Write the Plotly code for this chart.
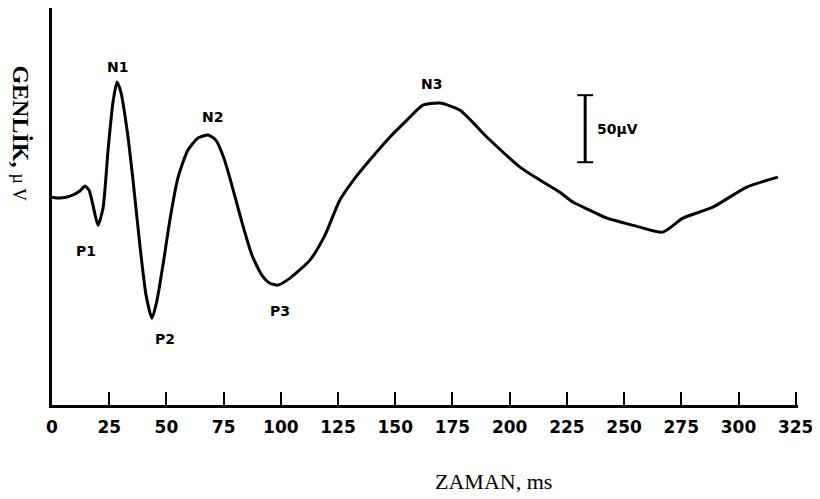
import plotly.graph_objects as go

# Waveform (time in ms, amplitude in µV, upward = displayed positive)
time_ms = [0, 3.5, 7.9, 12.2, 14.4, 16.2, 17.9, 20.1, 22.3, 24.5, 26.6, 28.4, 30.1, 32.8,
           35.4, 38.4, 41.1, 43.7, 45.9, 48.5, 51.5, 55.0, 59.4, 63.8, 68.2, 71.6, 75.1,
           78.6, 83.0, 87.4, 91.7, 95.2, 98.7, 104.0, 112.7, 119.3, 125.8, 132.4, 138.9,
           147.7, 155.1, 162.1, 169.5, 178.2, 190.0, 204.5, 213.2, 221.9, 227.6, 235.0,
           242.5, 250.3, 256.9, 266.9, 275.7, 288.8, 303.6, 317.2]
amp_uv = [0, -0.7, 0.7, 4.5, 8.2, 5.2, -6.0, -20.9, -8.2, 35.1, 70.1, 85.8, 78.3, 50.0,
          12.7, -35.8, -73.1, -90.3, -76.8, -50.7, -17.2, 14.2, 35.1, 44.0, 46.3, 42.5, 29.1,
          9.0, -18.7, -43.3, -58.2, -64.2, -65.6, -60.4, -47.0, -28.3, -2.2, 14.2, 27.6,
          44.8, 57.4, 68.6, 70.1, 64.9, 44.8, 22.4, 12.7, 3.7, -3.7, -9.7,
          -15.7, -19.4, -22.4, -26.1, -15.7, -7.5, 7.5, 14.9]

# Component labels and the sample index of their peak/trough
comp_labels = ["P1", "N1", "P2", "N2", "P3", "N3"]
comp_index = [7, 11, 17, 24, 32, 42]
comp_shift = [(-12, -26), (1, 15), (13, -21), (4, 18), (2, -26), (-8, 19)]

x_ticks = [0, 25, 50, 75, 100, 125, 150, 175, 200, 225, 250, 275, 300, 325]
scale_bar_uv = 50
scale_bar_x = 233
scale_bar_base = 26

fig = go.Figure()
fig.add_trace(go.Scatter(x=time_ms, y=amp_uv, mode="lines",
                         line=dict(color="black", width=3, shape="spline", smoothing=0.6),
                         hoverinfo="skip", showlegend=False))

for lab, idx, (dx, dy) in zip(comp_labels, comp_index, comp_shift):
    fig.add_annotation(x=time_ms[idx], y=amp_uv[idx], text=f"<b>{lab}</b>", showarrow=False,
                       xshift=dx, yshift=dy,
                       font=dict(family="DejaVu Sans", size=14, color="black"))

# scale bar
sb_top = scale_bar_base + scale_bar_uv
fig.add_shape(type="line", x0=scale_bar_x, x1=scale_bar_x, y0=scale_bar_base, y1=sb_top,
              line=dict(color="black", width=3))
for yy in (scale_bar_base, sb_top):
    fig.add_shape(type="line", x0=scale_bar_x - 3.5, x1=scale_bar_x + 3.5, y0=yy, y1=yy,
                  line=dict(color="black", width=2))
fig.add_annotation(x=scale_bar_x, y=scale_bar_base + scale_bar_uv / 2, text="<b>50µV</b>",
                   showarrow=False, xanchor="left", xshift=10,
                   font=dict(family="DejaVu Sans", size=14, color="black"))

# axis titles
fig.add_annotation(xref="paper", yref="paper", x=0.592, y=-0.192, yanchor="middle",
                   text="ZAMAN, ms", showarrow=False,
                   font=dict(family="Liberation Serif, Times New Roman", size=22, color="black"))
fig.add_annotation(xref="paper", yref="paper", x=-0.042, y=0.685, xanchor="center",
                   yanchor="middle",
                   text="<b>GENLİK,</b> <span style='font-size:18px'>µ V</span>",
                   textangle=90, showarrow=False,
                   font=dict(family="Liberation Serif, Times New Roman", size=24, color="black"))

fig.update_xaxes(range=[0, 326], tickvals=x_ticks, ticktext=[str(t) for t in x_ticks],
                 ticks="inside", ticklen=13, tickwidth=2, tickcolor="black", ticklabelstandoff=5,
                 showline=True, linewidth=3, linecolor="black", showgrid=False, zeroline=False,
                 tickfont=dict(family="DejaVu Sans", size=17, color="black", weight="bold"))
fig.update_yaxes(range=[-155, 141], showline=True, linewidth=3, linecolor="black",
                 showticklabels=False, ticks="", showgrid=False, zeroline=False)

# page body has an 8px margin, so the figure is sized/placed to compensate
fig.update_layout(width=812, height=491, plot_bgcolor="white", paper_bgcolor="white",
                  margin=dict(l=44, r=22, t=0, b=94), showlegend=False)

fig.write_html("out.html")
